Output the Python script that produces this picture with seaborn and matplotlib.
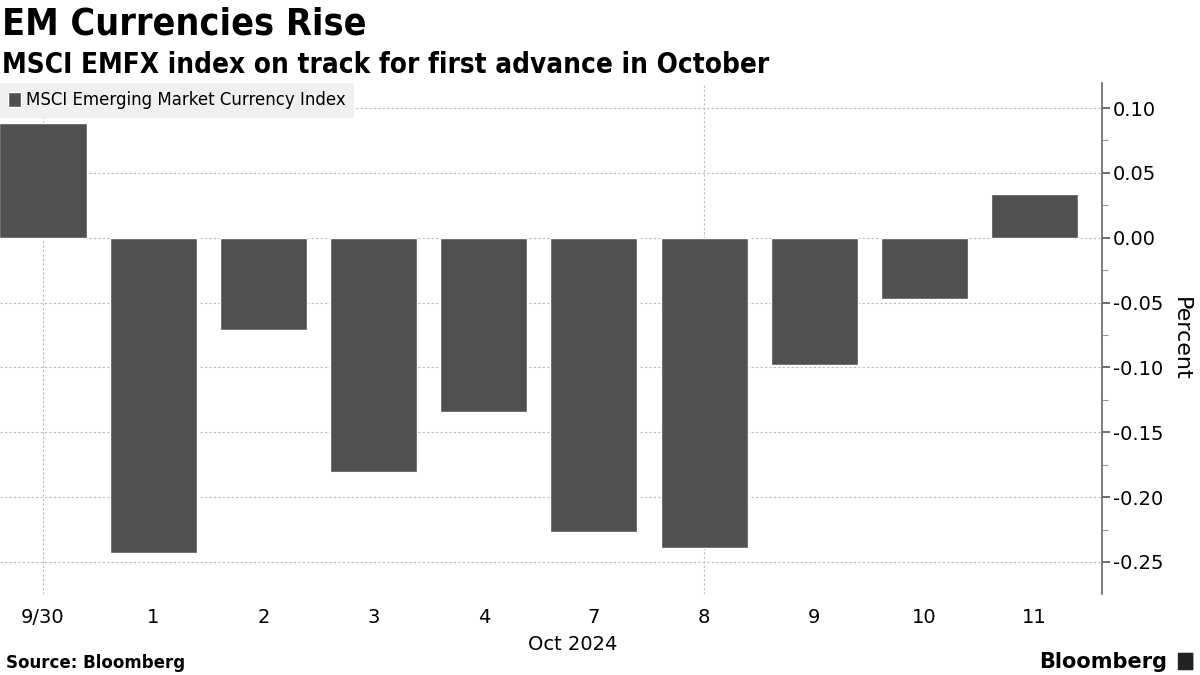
import matplotlib
matplotlib.use("Agg")
import matplotlib.pyplot as plt
import matplotlib.ticker as mticker
from matplotlib.patches import FancyBboxPatch
import seaborn as sns
import pandas as pd

# data
days = ["9/30", "1", "2", "3", "4", "7", "8", "9", "10", "11"]
emfx_change = [0.0887, -0.243, -0.0712, -0.1804, -0.1342, -0.2267, -0.239, -0.098, -0.047, 0.0337]
series_name = "MSCI Emerging Market Currency Index"
y_ticks = [0.10, 0.05, 0.00, -0.05, -0.10, -0.15, -0.20, -0.25]
week_grid_days = ["9/30", "8"]

df = pd.DataFrame({"day": days, "change": emfx_change})

sns.set_style("white")
plt.rcParams["font.family"] = ["DejaVu Sans"]
plt.rcParams["text.color"] = "black"
plt.rcParams["axes.labelcolor"] = "black"
plt.rcParams["xtick.color"] = "black"
plt.rcParams["ytick.color"] = "black"

fig = plt.figure(figsize=(12, 6.75), dpi=100)
ax = fig.add_axes([0.0, 0.12, 0.9183, 0.757])

sns.barplot(data=df, x="day", y="change", order=days, color="#505050",
            saturation=1, width=0.79, label=series_name, ax=ax)

ax.set_xlim(-0.39, 9.61)
ax.set_ylim(-0.2747, 0.1193)

# y axis on the right
ax.yaxis.tick_right()
ax.yaxis.set_label_position("right")
ax.set_yticks(y_ticks)
ax.yaxis.set_major_formatter(mticker.FormatStrFormatter("%.2f"))
ax.yaxis.set_minor_locator(mticker.MultipleLocator(0.025))
ax.tick_params(axis="y", which="major", length=6, width=1.2, color="#555555",
               labelsize=14, pad=2, labelcolor="black")
ax.tick_params(axis="y", which="minor", length=4, width=0.8, color="#999999")
ax.set_ylabel("Percent", fontsize=16, rotation=270, labelpad=20)

# x axis labels
ax.set_xlabel("")
ax.tick_params(axis="x", which="major", length=0, labelsize=14, pad=10, labelcolor="black")
ax.set_xticks(range(len(days)), days)
ax.xaxis.remove_overlapping_locs = False
ax.xaxis.set_minor_locator(mticker.FixedLocator([days.index(d) for d in week_grid_days]))
ax.tick_params(axis="x", which="minor", length=0)

for s in ["left", "top", "bottom"]:
    ax.spines[s].set_visible(False)
ax.spines["right"].set_color("#666666")
ax.spines["right"].set_linewidth(1.2)

ax.grid(axis="y", which="major", color="#bbbbbb", linestyle=(0, (2, 2)), linewidth=0.8)
ax.grid(axis="x", which="minor", color="#bbbbbb", linestyle=(0, (2, 2)), linewidth=0.8)
ax.grid(axis="x", which="major", visible=False)
ax.set_axisbelow(True)

ax.annotate("Oct 2024", xy=(0.52, 0), xycoords="axes fraction", xytext=(0, -36),
            textcoords="offset points", ha="center", va="center", fontsize=14)

leg = ax.legend(loc="upper left", bbox_to_anchor=(0, 1), frameon=True, fancybox=False,
                fontsize=12, handlelength=0.75, handleheight=1.0, handletextpad=0.3,
                borderpad=0.5, borderaxespad=0)
leg.get_frame().set_facecolor("#f0f0f0")
leg.get_frame().set_edgecolor("none")
leg.get_frame().set_alpha(1)

# titles
fig.text(0.002, 0.99, "EM Currencies Rise", fontsize=27, fontweight="bold",
         fontstretch="condensed", va="top", ha="left")
fig.text(0.002, 0.925, "MSCI EMFX index on track for first advance in October",
         fontsize=20, fontweight="bold", fontstretch="condensed", va="top", ha="left")

# footer
fig.text(0.005, 0.005, "Source: Bloomberg", fontsize=12, fontweight="bold", va="bottom", ha="left")
fig.text(0.973, 0.005, "Bloomberg", fontsize=15, fontweight="bold", va="bottom", ha="right")
fig.patches.append(FancyBboxPatch((0.9825, 0.008), 0.011, 0.024, transform=fig.transFigure,
                                  boxstyle="round,pad=0.001", facecolor="#222222",
                                  edgecolor="none"))

fig.savefig("out.png", dpi=100)
